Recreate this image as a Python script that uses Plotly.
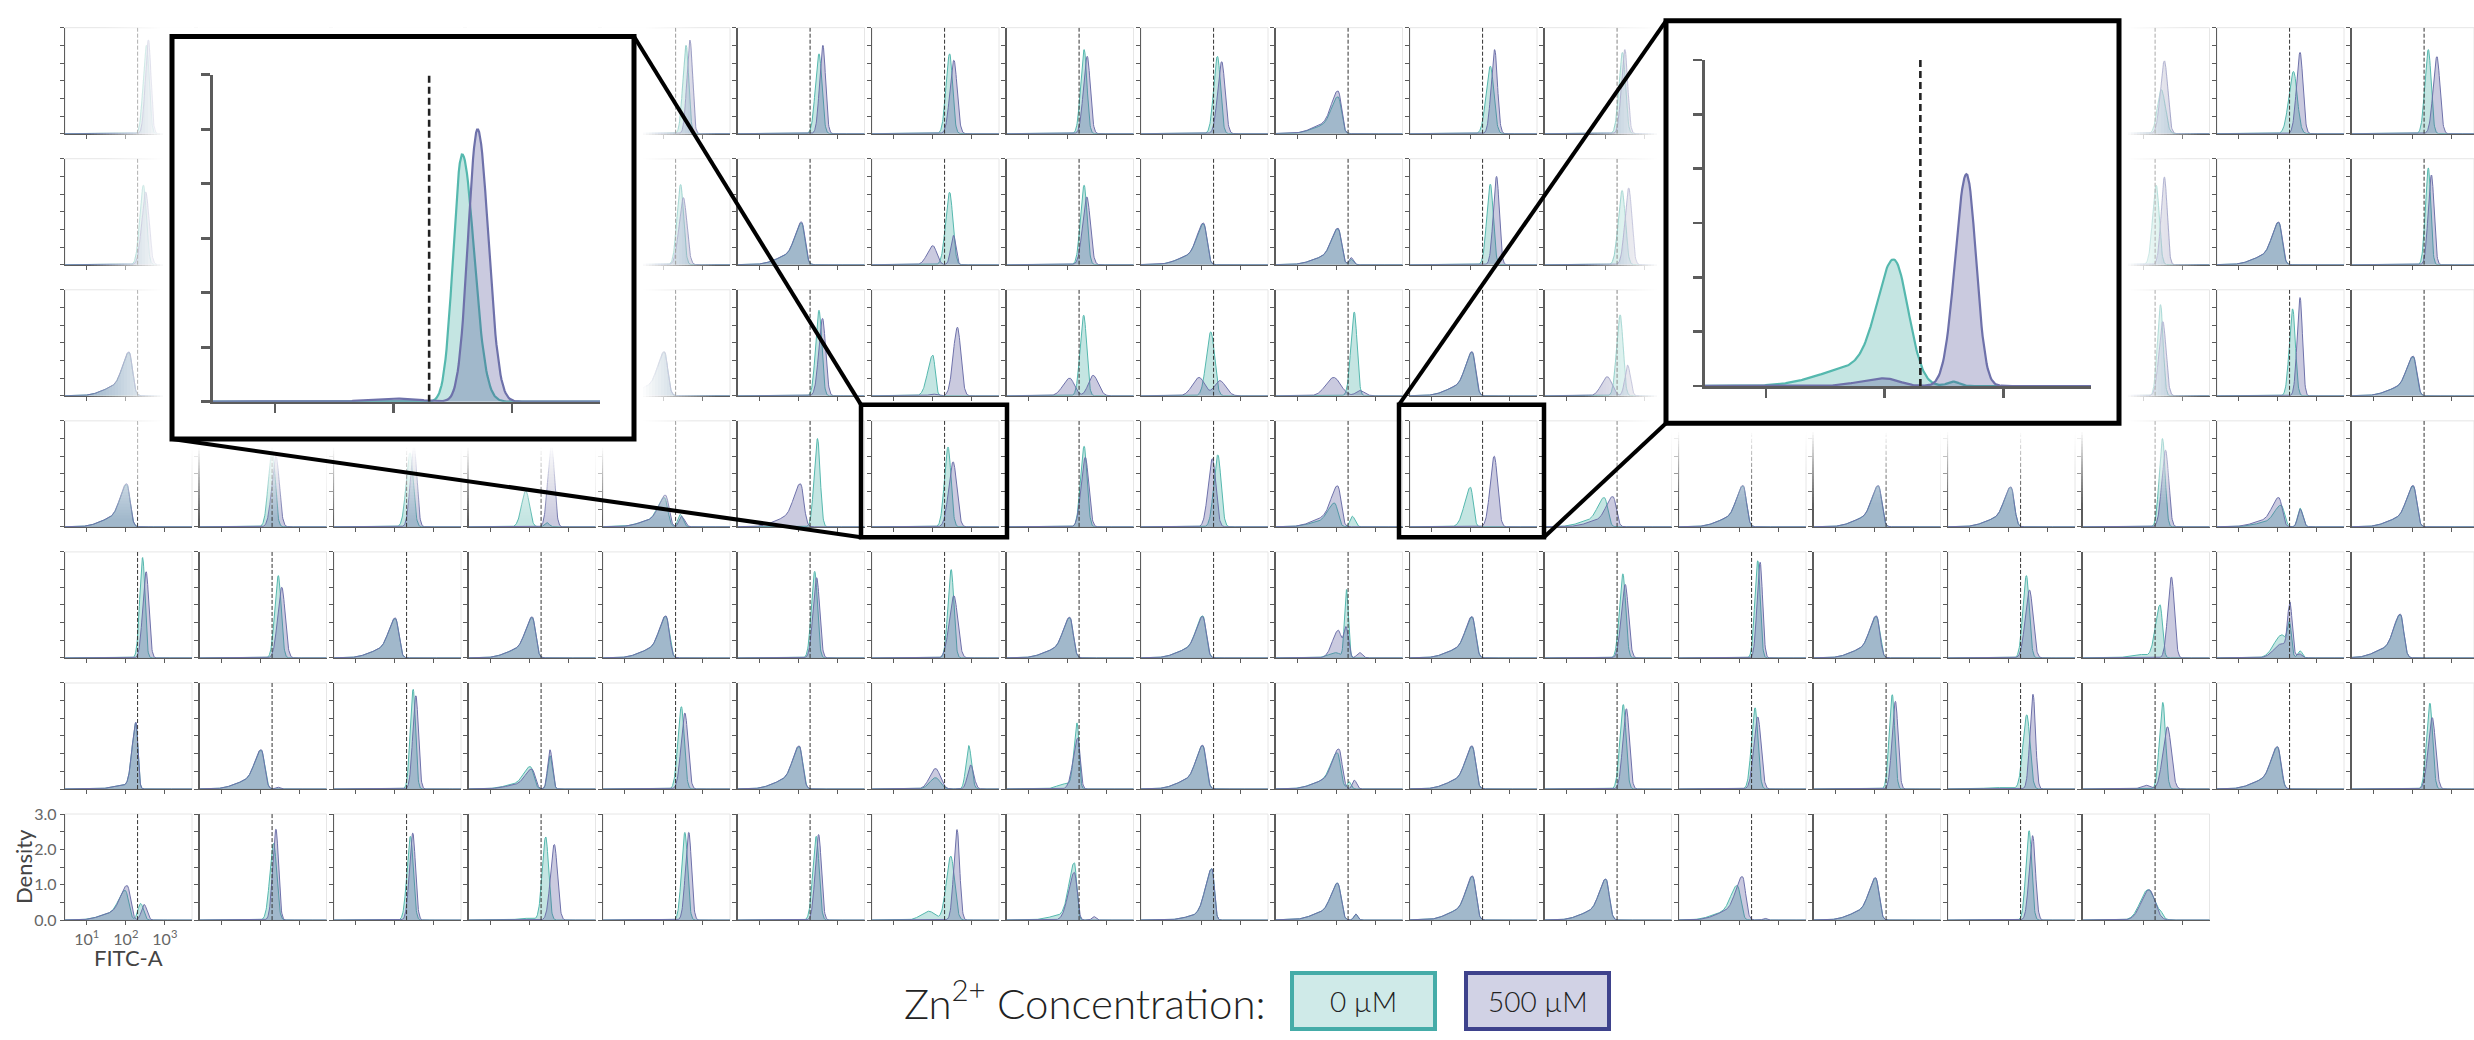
import numpy as np
import plotly.graph_objects as go

W, H = 2474, 1040

# ---------------- data ----------------
THRESHOLD = 200                      # FITC-A gate (dashed line)
X_TICKS = [10, 100, 1000]
X_TICK_TEXT = ['10<sup>1</sup>', '10<sup>2</sup>', '10<sup>3</sup>']
Y_TICKS = [0, 1.0, 2.0, 3.0]
Y_TICK_TEXT = ['0.0', '1.0', '2.0', '3.0']
Y_MINOR_STEP = 0.5
GROUPS = ['0 µM', '500 µM']
LEGEND_TITLE = 'Zn<sup>2+</sup> Concentration:'

# each curve: list of peaks
# ('n', log10 position, density)  narrow peak
# ('b', log10 position, density)  broad, left-skewed peak
# ('g', log10 position, density, left spread, right spread)
teal_r0 = [[('n', 2.53, 2.5)], [('n', 2.45, 2.3)], [('b', 2.05, 1.2)], [('n', 2.45, 2.4)],
           [('n', 2.57, 2.5)], [('n', 2.53, 2.26)], [('n', 2.43, 2.26)], [('n', 2.43, 2.38)],
           [('n', 2.40, 2.19)], [('b', 2.05, 1.07)], [('n', 2.50, 1.91)], [('n', 2.44, 2.3)],
           [('n', 2.45, 2.3)], [('b', 2.05, 1.2)], [('n', 2.45, 2.3)], [('g', 2.46, 1.25, 0.1, 0.1)],
           [('n', 2.40, 1.76)], [('n', 2.41, 2.38)]]
purple_r0 = [[('n', 2.58, 2.65)], [('n', 2.55, 2.2)], [('b', 2.05, 1.2)], [('n', 2.50, 2.3)],
             [('n', 2.67, 2.65)], [('n', 2.63, 2.5)], [('n', 2.54, 2.08)], [('n', 2.51, 2.19)],
             [('n', 2.51, 2.04)], [('b', 2.05, 1.24)], [('n', 2.61, 2.38)], [('n', 2.50, 2.38)],
             [('n', 2.55, 2.2)], [('b', 2.05, 1.2)], [('n', 2.55, 2.2)], [('n', 2.54, 2.06)],
             [('n', 2.57, 2.3)], [('n', 2.63, 2.18)]]

teal_r1 = [[('n', 2.45, 2.25)], [('b', 2.0, 1.2)], [('n', 2.45, 2.3)], [('n', 2.40, 2.2)],
           [('n', 2.43, 2.27)], [('b', 2.09, 1.2)], [('n', 2.43, 2.05)], [('n', 2.43, 2.25)],
           [('b', 2.05, 1.18)], [('b', 2.05, 1.04), ('g', 2.38, 0.15, 0.05, 0.06)],
           [('n', 2.50, 2.28)], [('n', 2.43, 2.1)],
           [('b', 2.0, 1.2)], [('n', 2.45, 2.3)], [('n', 2.40, 2.2)], [('n', 2.33, 2.25)],
           [('b', 2.03, 1.22)], [('n', 2.41, 2.74)]]
purple_r1 = [[('n', 2.51, 2.06)], [('b', 2.0, 1.2)], [('n', 2.55, 2.1)], [('n', 2.50, 2.3)],
             [('n', 2.50, 1.9)], [('b', 2.09, 1.24)],
             [('g', 2.0, 0.54, 0.14, 0.1), ('g', 2.53, 0.83, 0.07, 0.06)],
             [('n', 2.50, 1.92)], [('b', 2.05, 1.21)], [('b', 2.05, 1.06), ('g', 2.38, 0.2, 0.05, 0.06)],
             [('n', 2.66, 2.5)], [('n', 2.60, 2.17)],
             [('b', 2.0, 1.2)], [('n', 2.55, 2.1)], [('n', 2.50, 2.3)], [('n', 2.54, 2.48)],
             [('b', 2.03, 1.24)], [('n', 2.49, 2.54)]]

teal_r2 = [[('b', 2.09, 1.25)], [('n', 2.45, 2.3)], [('n', 2.40, 2.2)], [('b', 2.05, 1.2)],
           [('b', 2.02, 1.26)], [('n', 2.53, 2.42)], [('g', 2.0, 1.15, 0.13, 0.06)],
           [('n', 2.42, 2.28)], [('n', 2.23, 1.81)], [('n', 2.46, 2.37)], [('b', 2.04, 1.26)],
           [('n', 2.38, 2.29)],
           [('n', 2.45, 2.3)], [('n', 2.40, 2.2)], [('b', 2.05, 1.2)], [('n', 2.44, 2.58)],
           [('n', 2.38, 2.46)], [('b', 2.03, 1.13)]]
purple_r2 = [[('b', 2.09, 1.27)], [('n', 2.55, 2.2)], [('n', 2.50, 2.3)], [('b', 2.05, 1.2)],
             [('b', 2.02, 1.28)], [('n', 2.62, 2.19)],
             [('n', 2.63, 1.94), ('g', 2.0, 0.05, 0.1, 0.1)],
             [('g', 2.06, 0.5, 0.17, 0.12), ('g', 2.66, 0.58, 0.12, 0.13)],
             [('g', 1.93, 0.52, 0.17, 0.14), ('g', 2.46, 0.43, 0.14, 0.15)],
             [('g', 1.93, 0.52, 0.2, 0.18), ('g', 2.6, 0.15, 0.1, 0.12)],
             [('b', 2.04, 1.28)],
             [('g', 2.05, 0.54, 0.15, 0.12), ('g', 2.57, 0.87, 0.07, 0.07)],
             [('n', 2.55, 2.2)], [('n', 2.50, 2.3)], [('b', 2.05, 1.2)], [('n', 2.50, 2.1)],
             [('n', 2.57, 2.78)], [('b', 2.03, 1.15)]]

teal_r3 = [[('b', 2.03, 1.22)], [('n', 2.30, 2.2)], [('n', 2.39, 2.1)],
           [('g', 1.91, 1.02, 0.11, 0.09), ('g', 2.45, 0.12, 0.06, 0.06)],
           [('b', 2.02, 0.85), ('g', 2.42, 0.35, 0.06, 0.07)],
           [('n', 2.49, 2.5)], [('n', 2.39, 2.26)], [('n', 2.43, 2.28)], [('n', 2.41, 2.04)],
           [('b', 1.96, 0.69), ('g', 2.41, 0.3, 0.06, 0.07)],
           [('g', 1.99, 1.12, 0.15, 0.07)], [('b', 1.98, 0.85)],
           [('b', 2.09, 1.18)], [('b', 2.11, 1.18)], [('b', 2.06, 1.14)], [('n', 2.49, 2.5)],
           [('b', 2.09, 0.63), ('g', 2.57, 0.53, 0.06, 0.07)], [('b', 2.03, 1.18)]]
purple_r3 = [[('b', 2.03, 1.25)], [('n', 2.40, 2.0)], [('n', 2.49, 2.3)],
             [('n', 2.57, 2.3), ('g', 2.45, 0.08, 0.05, 0.05)],
             [('b', 2.05, 0.92), ('g', 2.45, 0.3, 0.06, 0.08)],
             [('b', 2.06, 1.25)], [('n', 2.52, 1.84)], [('n', 2.46, 1.97)], [('n', 2.27, 1.93)],
             [('b', 2.04, 1.19)], [('n', 2.60, 2.0)], [('b', 2.20, 0.88)],
             [('b', 2.09, 1.2)], [('b', 2.11, 1.2)], [('b', 2.06, 1.16)], [('n', 2.57, 2.17)],
             [('b', 2.03, 0.85), ('g', 2.57, 0.5, 0.06, 0.07)], [('b', 2.03, 1.2)]]

teal_r4 = [[('n', 2.43, 2.84)], [('n', 2.46, 2.33)], [('b', 2.02, 1.14)], [('b', 2.08, 1.17)],
           [('b', 2.06, 1.2)], [('n', 2.42, 2.45)], [('n', 2.47, 2.5)], [('b', 2.07, 1.16)],
           [('b', 2.03, 1.22)], [('g', 2.26, 1.93, 0.05, 0.05), ('g', 2.0, 0.15, 0.2, 0.1)],
           [('b', 2.04, 1.18)], [('n', 2.45, 2.38)],
           [('n', 2.46, 2.75)], [('b', 2.06, 1.2)], [('n', 2.45, 2.33)],
           [('g', 2.43, 1.5, 0.12, 0.06), ('g', 1.9, 0.1, 0.25, 0.2)],
           [('g', 2.1, 0.65, 0.2, 0.1), ('g', 2.3, 0.95, 0.06, 0.05), ('g', 2.57, 0.2, 0.06, 0.06)],
           [('b', 1.70, 1.25)]]
purple_r4 = [[('n', 2.52, 2.44)], [('n', 2.55, 2.0)], [('b', 2.02, 1.16)], [('b', 2.08, 1.19)],
             [('b', 2.06, 1.22)], [('n', 2.47, 2.27)], [('n', 2.54, 1.76)], [('b', 2.07, 1.18)],
             [('b', 2.03, 1.2)],
             [('g', 2.05, 0.78, 0.15, 0.08), ('g', 2.25, 0.85, 0.06, 0.06), ('g', 2.6, 0.15, 0.07, 0.07)],
             [('b', 2.04, 1.2)], [('n', 2.51, 2.08)],
             [('n', 2.52, 2.71)], [('b', 2.06, 1.22)], [('n', 2.53, 1.92)], [('n', 2.72, 2.29)],
             [('g', 2.1, 0.4, 0.2, 0.12), ('g', 2.31, 1.5, 0.06, 0.06), ('g', 2.55, 0.12, 0.06, 0.06)],
             [('b', 1.70, 1.27)]]

teal_r5 = [[('g', 2.26, 1.85, 0.1, 0.05), ('g', 1.9, 0.1, 0.25, 0.2)], [('b', 2.03, 1.12)],
           [('n', 2.47, 2.82)], [('b', 2.03, 0.65), ('g', 2.53, 0.94, 0.06, 0.06)],
           [('n', 2.45, 2.33)], [('b', 2.03, 1.23)],
           [('g', 2.07, 0.32, 0.15, 0.12), ('g', 2.92, 1.23, 0.07, 0.07)],
           [('g', 2.25, 1.85, 0.08, 0.05), ('g', 1.95, 0.15, 0.2, 0.15)],
           [('b', 2.03, 1.25)], [('b', 2.03, 1.05), ('g', 2.33, 0.2, 0.05, 0.05)],
           [('b', 2.04, 1.23)], [('n', 2.46, 2.39)],
           [('n', 2.39, 2.3)], [('n', 2.46, 2.67)], [('n', 2.46, 2.1), ('g', 1.7, 0.04, 0.3, 0.3)],
           [('n', 2.50, 2.45)], [('b', 2.0, 1.21)], [('n', 2.45, 2.43)]]
purple_r5 = [[('g', 2.26, 1.87, 0.1, 0.05), ('g', 1.9, 0.1, 0.25, 0.2)],
             [('b', 2.03, 1.14), ('g', 2.45, 0.05, 0.05, 0.05)],
             [('n', 2.54, 2.64)], [('b', 2.07, 0.58), ('g', 2.53, 1.11, 0.06, 0.06)],
             [('n', 2.54, 2.15)], [('b', 2.03, 1.25)],
             [('g', 2.07, 0.58, 0.15, 0.12), ('g', 2.97, 0.68, 0.08, 0.08)],
             [('g', 2.27, 1.44, 0.12, 0.06)],
             [('b', 2.03, 1.27)], [('b', 2.07, 1.16), ('g', 2.46, 0.25, 0.05, 0.06)],
             [('b', 2.04, 1.25)], [('n', 2.54, 2.27)],
             [('n', 2.46, 2.04)], [('n', 2.54, 2.48)], [('n', 2.62, 2.68)],
             [('n', 2.62, 1.76), ('g', 2.06, 0.11, 0.12, 0.1)], [('b', 2.0, 1.23)], [('n', 2.51, 2.02)]]

teal_r6 = [[('b', 1.99, 0.86), ('g', 2.38, 0.47, 0.07, 0.07)], [('n', 2.34, 2.17)],
           [('n', 2.40, 2.37)], [('n', 2.42, 2.35), ('g', 1.9, 0.05, 0.2, 0.2)],
           [('n', 2.54, 2.48)], [('n', 2.46, 2.37)], [('n', 2.46, 1.81), ('g', 1.9, 0.25, 0.2, 0.15)],
           [('g', 2.18, 1.6, 0.14, 0.06), ('g', 1.8, 0.12, 0.3, 0.2)],
           [('g', 2.26, 1.44, 0.17, 0.06), ('g', 1.85, 0.12, 0.3, 0.2)],
           [('b', 2.04, 1.07), ('g', 2.5, 0.17, 0.05, 0.05)], [('b', 2.05, 1.26)],
           [('b', 2.02, 1.18)], [('b', 1.94, 1.0)], [('b', 2.04, 1.21)], [('n', 2.52, 2.53)],
           [('g', 2.12, 0.86, 0.2, 0.18), ('g', 2.45, 0.1, 0.05, 0.05)]]
purple_r6 = [[('b', 2.04, 1.0), ('g', 2.47, 0.44, 0.07, 0.07)], [('n', 2.40, 2.57)],
             [('n', 2.46, 2.46)], [('n', 2.64, 2.14)],
             [('n', 2.64, 2.48)], [('n', 2.52, 2.42)], [('n', 2.62, 2.56)],
             [('g', 2.18, 1.35, 0.15, 0.07), ('g', 2.68, 0.1, 0.05, 0.05)],
             [('g', 2.26, 1.44, 0.17, 0.06), ('g', 1.85, 0.12, 0.3, 0.2)],
             [('b', 2.04, 1.07), ('g', 2.5, 0.17, 0.05, 0.05)], [('b', 2.05, 1.28)],
             [('b', 2.02, 1.19)], [('b', 2.07, 1.26), ('g', 2.64, 0.05, 0.05, 0.05)],
             [('b', 2.04, 1.23)], [('n', 2.61, 2.39)], [('g', 2.15, 0.86, 0.2, 0.15)]]

# zoomed insets (row 4 col 7 and row 4 col 11 of the grid)
inset1_teal = [('g', 2.58, 2.27, 0.075, 0.10)]
inset1_purple = [('g', 2.71, 2.5, 0.08, 0.09), ('g', 2.0, 0.03, 0.2, 0.2)]
inset2_teal = [('g', 2.08, 1.12, 0.14, 0.12), ('g', 1.75, 0.17, 0.3, 0.2), ('g', 2.58, 0.04, 0.05, 0.05)]
inset2_purple = [('g', 2.69, 1.95, 0.095, 0.08), ('g', 2.0, 0.07, 0.2, 0.12)]

TEAL_ROWS = [teal_r0, teal_r1, teal_r2, teal_r3, teal_r4, teal_r5, teal_r6]
PURPLE_ROWS = [purple_r0, purple_r1, purple_r2, purple_r3, purple_r4, purple_r5, purple_r6]

# ---------------- styling / layout ----------------
TEAL_FILL = 'rgba(60,170,160,0.30)'
PURPLE_FILL = 'rgba(80,80,150,0.30)'
TEAL_LINE = '#55b8ae'
PURPLE_LINE = '#6e71aa'
AX = '#5c5c5c'
FONT = 'Lato, Open Sans, sans-serif'

COL0, COL_PITCH, PW = 65.0, 134.5, 127.0
ROW0, ROW_PITCH, PH = 18.0, 133.5, 108.0
XMIN_LOG = 0.44
PX_PER_DEC = PW / 3.256

LGRID = np.linspace(0.3, 3.9, 420)


def expand(entries):
    comps = []
    for e in entries:
        if e[0] == 'n':
            s = 0.38 / e[2]
            comps.append((e[1], e[2], 0.55 * s, 0.45 * s))
        elif e[0] == 'b':
            comps.append((e[1], 0.9 * e[2], 0.16, 0.08))
            comps.append((e[1] - 0.3, 0.22 * e[2], 0.35, 0.2))
        else:
            comps.append(tuple(e[1:]))
    return comps


def density(entries):
    y = np.zeros_like(LGRID)
    for mu, h, sl, sr in expand(entries):
        s = np.where(LGRID < mu, sl, sr)
        y += h * np.exp(-0.5 * ((LGRID - mu) / s) ** 2)
    return y


def px(x):
    return x / W


def py(y):
    return 1 - y / H


fig = go.Figure()
layout = dict(width=W, height=H, margin=dict(l=0, r=0, t=0, b=0, pad=0),
              paper_bgcolor='white', plot_bgcolor='rgba(0,0,0,0)',
              showlegend=False, font=dict(family=FONT, color='#555'))
shapes = []
annotations = []


def axis_names(n):
    return ('x' if n == 1 else f'x{n}'), ('y' if n == 1 else f'y{n}')


def add_curves(n, tdata, pdata, lw):
    xa, ya = axis_names(n)
    xs = 10 ** LGRID
    for data, fc, lc in ((tdata, TEAL_FILL, TEAL_LINE), (pdata, PURPLE_FILL, PURPLE_LINE)):
        fig.add_trace(go.Scatter(x=xs, y=density(data), xaxis=xa, yaxis=ya, mode='lines',
                                 line=dict(color=lc, width=lw), fill='tozeroy', fillcolor=fc,
                                 hoverinfo='skip'))


n = 0
for r, (trow, prow) in enumerate(zip(TEAL_ROWS, PURPLE_ROWS)):
    for c in range(len(trow)):
        n += 1
        xa, ya = axis_names(n)
        left = COL0 + COL_PITCH * c
        right = min(left + PW, W)
        top = ROW0 + ROW_PITCH * r
        labels = (r == 6 and c == 0)
        add_curves(n, trow[c], prow[c], 1)
        fig.add_trace(go.Scatter(x=[THRESHOLD, THRESHOLD], y=[0, 3.0], xaxis=xa, yaxis=ya,
                                 mode='lines', line=dict(color='#333', width=1, dash='4px,2px'),
                                 hoverinfo='skip'))
        key = '' if n == 1 else str(n)
        layout['xaxis' + key] = dict(
            domain=[px(left), px(right)], anchor=ya, type='log',
            range=[XMIN_LOG, XMIN_LOG + (right - left) / PX_PER_DEC],
            showline=True, linecolor=AX, linewidth=1.3, ticks='outside', ticklen=4,
            tickwidth=1, tickcolor=AX, tickvals=X_TICKS, ticktext=X_TICK_TEXT,
            showticklabels=labels, tickfont=dict(size=16, color='#666'),
            showgrid=False, zeroline=False, fixedrange=True)
        layout['yaxis' + key] = dict(
            domain=[py(top + PH), py(top)], anchor=xa, range=[0, 3.0],
            showline=True, linecolor=AX, linewidth=1.3, ticks='outside', ticklen=4,
            tickwidth=1, tickcolor=AX, tickvals=Y_TICKS, ticktext=Y_TICK_TEXT,
            minor=dict(dtick=Y_MINOR_STEP, tick0=0, ticks='outside', ticklen=4,
                       tickwidth=1, tickcolor=AX, showgrid=False),
            showticklabels=labels, tickfont=dict(size=16, color='#666'),
            showgrid=False, zeroline=False, fixedrange=True)
        shapes.append(dict(type='rect', xref=f'{xa} domain', yref=f'{ya} domain',
                           x0=0, x1=1, y0=0, y1=1, layer='below',
                           line=dict(color='#e6e6e6', width=1)))

# ---------- overlay (pixel coordinates) with the white halo behind the insets ----------
n += 1
OV = n
ovx, ovy = axis_names(OV)
layout[f'xaxis{OV}'] = dict(domain=[0, 1], anchor=ovy, range=[0, W], visible=False, fixedrange=True)
layout[f'yaxis{OV}'] = dict(domain=[0, 1], anchor=ovx, range=[H, 0], visible=False, fixedrange=True)

INSET_BOXES = [(172, 27, 634, 437), (1666, 11, 2119, 421)]
SMALL_BOXES = [(861, 402, 1007, 537), (1399, 402, 1544, 537)]


def rect_trace(x0, y0, x1, y1, color):
    return go.Scatter(x=[x0, x1, x1, x0, x0], y=[y0, y0, y1, y1, y0], xaxis=ovx, yaxis=ovy,
                      mode='lines', fill='toself', fillcolor=color,
                      line=dict(width=0, color='rgba(0,0,0,0)'), hoverinfo='skip')


GLOW_MAX, GLOW_STEP = 84, 3
for (x0, y0, x1, y1) in INSET_BOXES:
    prev = 1.0
    for d in np.arange(GLOW_MAX, 0, -GLOW_STEP):
        S = float(np.clip((d - GLOW_STEP / 2 - 8) / 75.0, 0, 1))
        if prev <= 0:
            break
        a = 1 - S / prev
        prev = S
        if a <= 0:
            continue
        fig.add_trace(rect_trace(x0 - d, y0 - d, x1 + d, y1 + d, f'rgba(255,255,255,{a:.4f})'))
    fig.add_trace(rect_trace(x0, y0, x1, y1, 'white'))

# ---------- inset plots ----------
INSET_AXES = [(213, 66, 600, 399, 0.477, 3.743), (1705, 51, 2091, 383, 0.485, 3.74)]
INSET_DATA = [(inset1_teal, inset1_purple), (inset2_teal, inset2_purple)]
for (l, t, rr, b, lo, hi), (td, pd_) in zip(INSET_AXES, INSET_DATA):
    n += 1
    xa, ya = axis_names(n)
    add_curves(n, td, pd_, 2.2)
    fig.add_trace(go.Scatter(x=[THRESHOLD, THRESHOLD], y=[0, 3.0], xaxis=xa, yaxis=ya, mode='lines',
                             line=dict(color='#222', width=2.6, dash='7px,4px'), hoverinfo='skip'))
    layout[f'xaxis{n}'] = dict(domain=[px(l), px(rr)], anchor=ya, type='log', range=[lo, hi],
                               showline=True, linecolor=AX, linewidth=2.6, ticks='outside',
                               ticklen=9, tickwidth=2.6, tickcolor=AX, tickvals=X_TICKS,
                               showticklabels=False, showgrid=False, zeroline=False, fixedrange=True)
    layout[f'yaxis{n}'] = dict(domain=[py(b), py(t)], anchor=xa, range=[0, 3.0],
                               showline=True, linecolor=AX, linewidth=2.6, ticks='outside',
                               ticklen=9, tickwidth=2.6, tickcolor=AX,
                               tickvals=[k * Y_MINOR_STEP for k in range(7)],
                               showticklabels=False, showgrid=False, zeroline=False, fixedrange=True)


# ---------- frames and connector lines ----------
def pshape(**kw):
    d = dict(xref=ovx, yref=ovy, layer='above')
    d.update(kw)
    shapes.append(d)


for (x0, y0, x1, y1) in INSET_BOXES:
    pshape(type='rect', x0=x0, y0=y0, x1=x1, y1=y1, line=dict(color='black', width=5))
for (x0, y0, x1, y1) in SMALL_BOXES:
    pshape(type='rect', x0=x0, y0=y0, x1=x1, y1=y1, line=dict(color='black', width=4.5))
CONNECTORS = [((634, 27), (861, 402)), ((172, 437), (861, 537)),
              ((1666, 11), (1399, 402)), ((1666, 421), (1544, 537))]
for (a, b) in CONNECTORS:
    pshape(type='line', x0=a[0], y0=a[1], x1=b[0], y1=b[1], line=dict(color='black', width=4))


def note(text, x, y, size, color, **kw):
    d = dict(text=text, x=px(x), y=py(y), xref='paper', yref='paper', xanchor='center',
             yanchor='middle', showarrow=False, font=dict(size=size, color=color))
    d.update(kw)
    annotations.append(d)


# ---------- axis titles ----------
note('Density', 23, 873, 22, '#444', textangle=-90)
note('FITC-A', 128, 965, 22, '#444')

# ---------- legend ----------
note(LEGEND_TITLE, 1268, 1008, 42, '#222', xanchor='right')
annotations[-1]['font']['weight'] = 300
LEG_BOXES = [(1292, 981, 1435, 1038, '#cfeae8', '#45aca8'), (1466, 981, 1609, 1038, '#d1d2e5', '#3e428c')]
for (x0, y0, x1, y1, fc, lc), lab in zip(LEG_BOXES, GROUPS):
    pshape(type='rect', x0=x0, y0=y0, x1=x1, y1=y1, fillcolor=fc, line=dict(color=lc, width=4))
    note(lab, (x0 + x1) / 2, (y0 + y1) / 2, 28, '#222')
    annotations[-1]['font']['weight'] = 300

layout['shapes'] = shapes
layout['annotations'] = annotations
fig.update_layout(**layout)
fig.write_html('out.html', config={'displayModeBar': False, 'staticPlot': True},
               post_script="document.body.style.margin='0';document.body.style.overflow='hidden';")
